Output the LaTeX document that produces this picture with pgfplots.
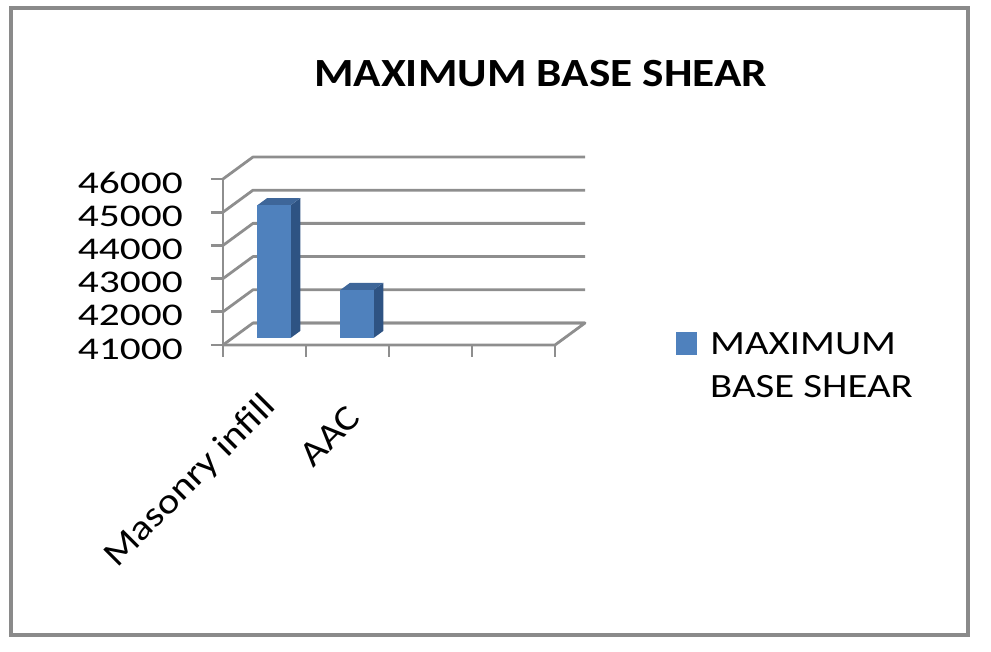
\documentclass[border=0pt]{standalone}
\usepackage{pgfplots}
\pgfplotsset{compat=1.18}
\usepackage{fontspec}
\setmainfont{Carlito}
\definecolor{barfront}{HTML}{4F81BD}
\definecolor{bartop}{HTML}{3E6699}
\definecolor{barside}{HTML}{2E5383}
\definecolor{gridc}{HTML}{8E8E8E}
\definecolor{framec}{HTML}{8A8A8A}
\begin{document}
\begin{tikzpicture}
\begin{axis}[
  x={(83pt,0pt)}, y={(30pt,22pt)}, z={(0pt,0.0332pt)},
  hide axis, clip=false,
  xmin=0, xmax=4, ymin=0, ymax=1, zmin=41000, zmax=46000,
]
% floor
\addplot3[gridc, line width=2.8pt, line join=round] coordinates {(0,1,41000) (4,1,41000) (4,0,41000) (0,0,41000)};
% grid lines on left and back walls, ticks and tick labels
\pgfplotsinvokeforeach{41000,42000,43000,44000,45000,46000}{
  \addplot3[gridc, line width=2.8pt, line join=round] coordinates {(0,0,#1) (0,1,#1) (4,1,#1)};
  \addplot3[gridc, line width=2.8pt] coordinates {(-0.145,0,#1) (0,0,#1)};
  \node[anchor=east, inner sep=0pt, yshift=-4pt, font=\fontsize{31.6}{38}\selectfont] at (axis cs:-0.482,0,#1) {\scalebox{1.31}[1]{#1}};
}
% vertical axis and category ticks
\addplot3[gridc, line width=2.8pt] coordinates {(0,0,40639) (0,0,46000)};
\pgfplotsinvokeforeach{1,2,3,4}{
  \addplot3[gridc, line width=2.8pt] coordinates {(#1,0,40639) (#1,0,41000)};
}
% bar: Masonry infill = 45000
\addplot3[fill=barside, draw=none] coordinates {(0.7,0.32,41000) (0.7,0.64,41000) (0.7,0.64,45000) (0.7,0.32,45000)} --cycle;
\addplot3[fill=bartop, draw=none] coordinates {(0.3,0.32,45000) (0.7,0.32,45000) (0.7,0.64,45000) (0.3,0.64,45000)} --cycle;
\addplot3[fill=barfront, draw=none] coordinates {(0.3,0.32,41000) (0.7,0.32,41000) (0.7,0.32,45000) (0.3,0.32,45000)} --cycle;
% bar: AAC = 42450
\addplot3[fill=barside, draw=none] coordinates {(1.7,0.32,41000) (1.7,0.64,41000) (1.7,0.64,42450) (1.7,0.32,42450)} --cycle;
\addplot3[fill=bartop, draw=none] coordinates {(1.3,0.32,42450) (1.7,0.32,42450) (1.7,0.64,42450) (1.3,0.64,42450)} --cycle;
\addplot3[fill=barfront, draw=none] coordinates {(1.3,0.32,41000) (1.7,0.32,41000) (1.7,0.32,42450) (1.3,0.32,42450)} --cycle;
% category labels
\node[rotate=45, anchor=north east, inner sep=0pt, font=\fontsize{35.5}{42}\selectfont] at (axis cs:0.445,0,39640) {\scalebox{1.15}[1]{Masonry infill}};
\node[rotate=45, anchor=north east, inner sep=0pt, font=\fontsize{35.5}{42}\selectfont] at (axis cs:1.478,0,39250) {\scalebox{1.15}[1]{AAC}};
\coordinate (O) at (axis cs:0,0,41000);
\end{axis}
\begin{scope}[shift={(O)}]
\begin{scope}[x=1pt,y=-1pt,shift={(-223,-345)}]
\path (0,0) rectangle (991,652);
\draw[framec, line width=4pt] (11,8) rectangle (968,635);
\node[anchor=base, inner sep=0pt, font=\fontsize{40}{48}\selectfont\bfseries] at (540.5,87) {\scalebox{1.13}[1]{MAXIMUM BASE SHEAR}};
\fill[barfront] (676,332) rectangle (697,355);
\node[anchor=base west, inner sep=0pt, font=\fontsize{34}{40}\selectfont] at (710,355) {\scalebox{1.2}[1]{MAXIMUM}};
\node[anchor=base west, inner sep=0pt, font=\fontsize{34}{40}\selectfont] at (710,398) {\scalebox{1.2}[1]{BASE SHEAR}};
\end{scope}
\end{scope}
\end{tikzpicture}
\end{document}
